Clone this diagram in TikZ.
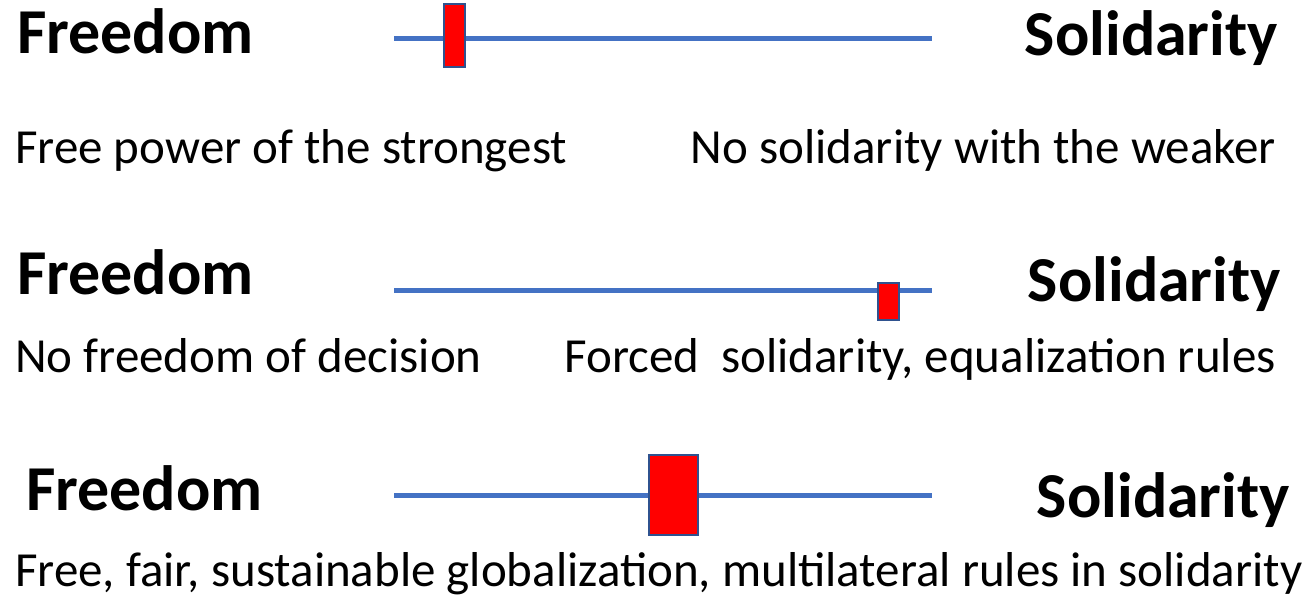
\documentclass[tikz,border=0pt]{standalone}
\usepackage{fontspec}
\setmainfont{Carlito}
\definecolor{scaleblue}{HTML}{4472C4}
\definecolor{slidered}{HTML}{FF0000}
\definecolor{slideedge}{HTML}{2F528F}
\tikzset{
  poleleft/.style={anchor=base west, inner sep=0pt, font=\fontsize{64}{70}\selectfont\bfseries},
  poleright/.style={anchor=base east, inner sep=0pt, font=\fontsize{64}{70}\selectfont\bfseries},
  noteleft/.style={anchor=base west, inner sep=0pt, font=\fontsize{49}{55}\selectfont},
  noteright/.style={anchor=base east, inner sep=0pt, font=\fontsize{49}{55}\selectfont},
  scaleline/.style={draw=scaleblue, line width=5pt},
  slider/.style={fill=slidered, draw=slideedge, line width=2pt}
}
\begin{document}
\begin{tikzpicture}[x=1pt, y=-1pt]
  \useasboundingbox (0,0) rectangle (1311,608);
  % first scale
  \node[poleleft] (free1) at (17,53) {Freedom};
  \node[poleright] (soli1) at (1278,55) {Solidarity};
  \draw[scaleline] (394,38) -- (932,38);
  \draw[slider] (444,4) rectangle (465,67);
  \node[noteleft] (left1) at (15,163) {Free power of the strongest};
  \node[noteright] (right1) at (1276,163) {No solidarity with the weaker};
  % second scale
  \node[poleleft] (free2) at (17,294) {Freedom};
  \node[poleright] (soli2) at (1281,301) {Solidarity};
  \draw[scaleline] (394,290) -- (932,290);
  \draw[slider] (878,283) rectangle (899,320);
  \node[noteleft] (left2) at (15,372) {No freedom of decision};
  \node[noteright] (right2) at (1276,372) {Forced\ \ solidarity, equalization rules};
  % third scale
  \node[poleleft] (free3) at (26,510) {Freedom};
  \node[poleright] (soli3) at (1290,517) {Solidarity};
  \draw[scaleline] (394,495) -- (932,495);
  \draw[slider] (649,455) rectangle (698,535);
  \node[noteleft] (left3) at (15,586) {Free, fair, sustainable globalization, multilateral rules in solidarity};
\end{tikzpicture}
\end{document}
